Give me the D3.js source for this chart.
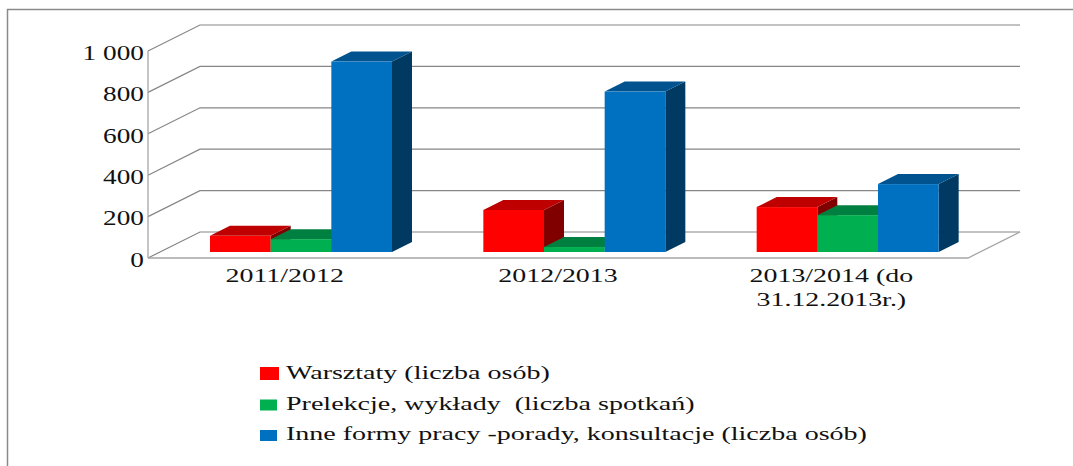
<!DOCTYPE html>
<html><head><meta charset="utf-8">
<script src="https://cdnjs.cloudflare.com/ajax/libs/d3/7.8.5/d3.min.js"></script>
<style>html,body{margin:0;padding:0;background:#fff;overflow:hidden}svg{display:block}
text{font-family:"Liberation Serif",serif;fill:#111}</style></head>
<body><svg id="c" width="1073" height="466"></svg>
<script>
const categories = [["2011/2012"],["2012/2013"],["2013/2014 (do","31.12.2013r.)"]];
const seriesNames = ["Warsztaty (liczba osób)","Prelekcje, wykłady  (liczba spotkań)","Inne formy pracy -porady, konsultacje (liczba osób)"];
const warsztaty = [78,203,217];
const prelekcje = [62,24,178];
const inne = [920,775,328];
const yTicks = [0,200,400,600,800,1000];
const tickLabels = ["0","200","400","600","800","1 000"];
const colFront = ["#FF0000","#00B050","#0070C0"];
const colTop = ["#BE0000","#008040","#00538F"];
const colSide = ["#800000","#005C2E","#003A63"];

const svg = d3.select("#c");
const left=148,right=968,y0=258,y1000=51,dx=52,dy=-26,barDx=20,barDy=-10,barBase=252;
const y = d3.scaleLinear().domain([0,1000]).range([y0,y1000]);
const x = d3.scaleBand().domain([0,1,2]).range([left,right]);
const sx = d3.scaleBand().domain([0,1,2]).range([0,182]);
const barOffset = 62; // group start inside each band
const hScale = (y0-y1000)/1000;
const grid="#868686";

svg.append("path").attr("d","M7.5,466V9.5H1073").attr("fill","none").attr("stroke","#8a8a8a").attr("stroke-width",1.5);

// walls
const g=svg.append("g").attr("fill","none").attr("stroke",grid);
yTicks.forEach(t=>{
  g.append("path").attr("stroke-width",1.2).attr("d",`M${left},${y(t)}L${left+dx},${y(t)+dy}H${right+dx}`);
});
g.append("path").attr("stroke","#a6a6a6").attr("stroke-width",1.3).attr("d",`M${left},${y(1000)}V${y(0)}`);
g.append("path").attr("stroke","#a6a6a6").attr("stroke-width",1.3).attr("d",`M${left},${y(0)}H${right}L${right+dx},${y(0)+dy}`);

// bars
[warsztaty,prelekcje,inne].forEach((vals,s)=>{
  vals.forEach((v,i)=>{
    const a=x(i)+barOffset+sx(s), w=sx.bandwidth();
    const top=barBase-v*hScale;
    const b=svg.append("g");
    b.append("path").attr("fill",colSide[s]).attr("d",`M${a+w},${top}l${barDx},${barDy}V${barBase+barDy}l${-barDx},${-barDy}Z`);
    b.append("path").attr("fill",colTop[s]).attr("d",`M${a},${top}l${barDx},${barDy}h${w}l${-barDx},${-barDy}Z`);
    b.append("rect").attr("x",a).attr("y",top).attr("width",w).attr("height",barBase-top).attr("fill",colFront[s]);
  });
});

// y axis labels
const ya=svg.append("g").attr("transform",`translate(${left},0)`)
  .call(d3.axisLeft(y).tickValues(yTicks).tickSize(0).tickPadding(4).tickFormat((d,i)=>tickLabels[i]));
ya.select(".domain").remove();
ya.selectAll("text").style("font-family","'Liberation Serif',serif").style("font-size","21px").attr("fill","#111")
  .attr("dy","0.32em").attr("y",1.5).attr("x",0)
  .attr("transform","translate(-4,0) scale(1.3,1)");

// x axis labels
const xa=svg.append("g").attr("transform",`translate(0,${y0})`)
  .call(d3.axisBottom(x).tickSize(0).tickFormat(()=>""));
xa.select(".domain").remove();
xa.selectAll(".tick text").each(function(d){
  const t=d3.select(this).text(null).attr("y",0).attr("dy",null)
   .style("font-family","'Liberation Serif',serif").style("font-size","19px").attr("fill","#111")
   .attr("text-anchor","middle").attr("transform","scale(1.47,1)");
  categories[d].forEach((line,k)=>{
    t.append("tspan").attr("x",0).attr("y",24.5+k*24).text(line);
  });
});

// legend
const legendY=d3.scalePoint().domain([0,1,2]).range([379,440]);
const swW=[19,17,17], swH=[13,11,11];
seriesNames.forEach((n,i)=>{
  svg.append("rect").attr("x",260).attr("y",legendY(i)-swH[i]+1).attr("width",swW[i]).attr("height",swH[i]).attr("fill",colFront[i]);
  svg.append("text").attr("transform",`translate(286,${legendY(i)}) scale(1.475,1)`)
    .attr("font-size",19).attr("xml:space","preserve").style("white-space","pre").text(n);
});
</script></body></html>
